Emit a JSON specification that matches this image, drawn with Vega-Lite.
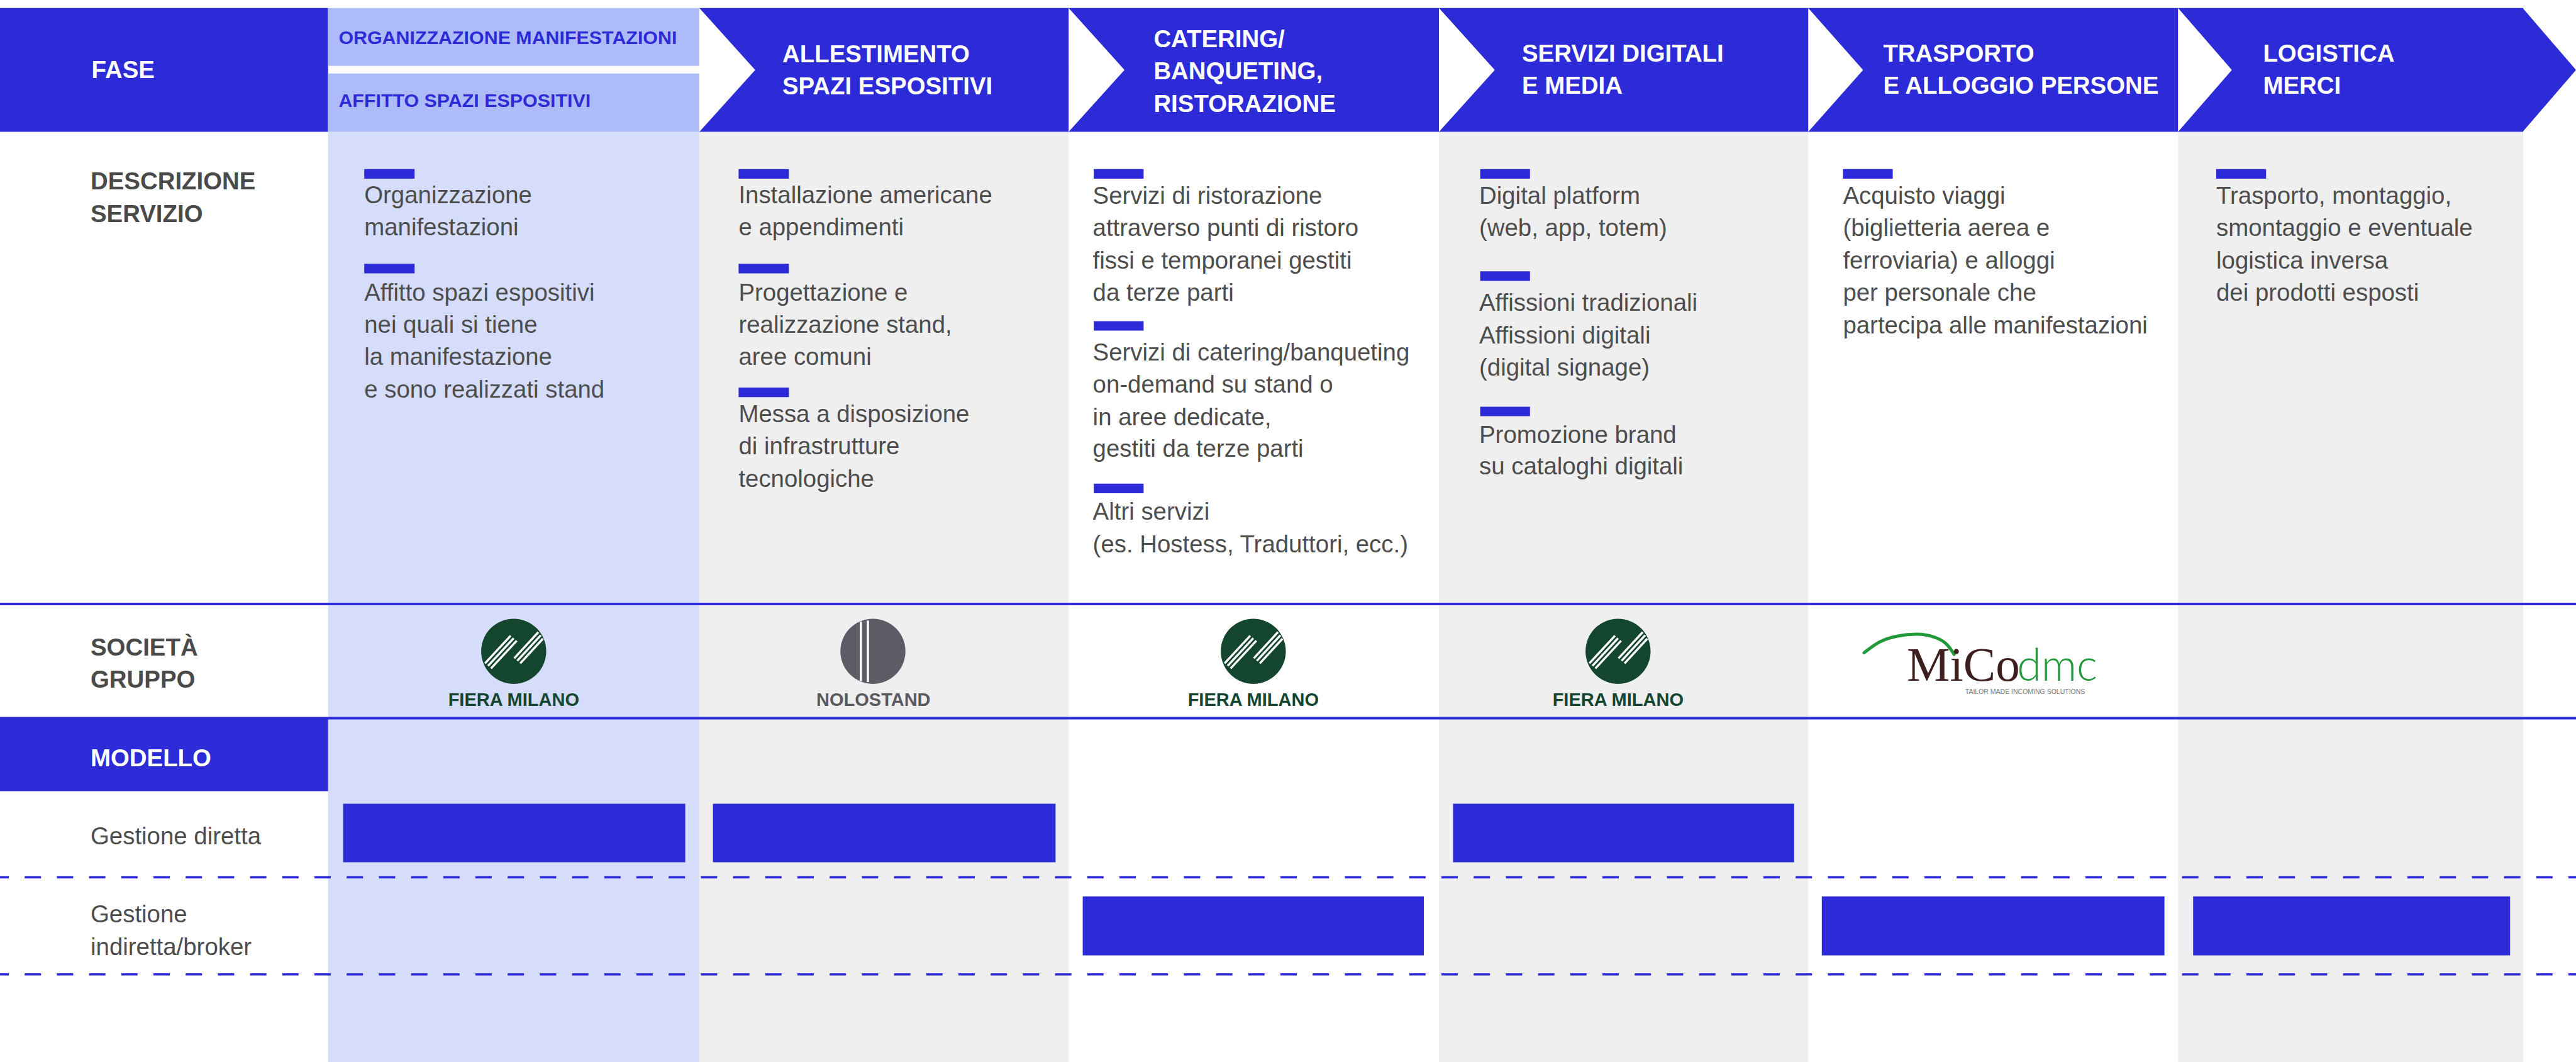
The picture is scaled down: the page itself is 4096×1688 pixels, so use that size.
{
  "$schema": "https://vega.github.io/schema/vega-lite/v6.json",
  "width": 4096,
  "height": 1688,
  "autosize": "none",
  "padding": 0,
  "background": "#ffffff",
  "config": {"view": {"stroke": null}},
  "datasets": {
    "columns": [
      {"phase": "Organizzazione manifestazioni", "x": 652, "x2": 1390, "y": 262, "y2": 2110, "kind": "colLight"},
      {"phase": "Allestimento", "x": 1390, "x2": 2124, "y": 262, "y2": 2110, "kind": "colGray"},
      {"phase": "Servizi digitali", "x": 2860, "x2": 3594, "y": 262, "y2": 2110, "kind": "colGray"},
      {"phase": "Logistica merci", "x": 4329, "x2": 5015, "y": 262, "y2": 2110, "kind": "colGray"}
    ],
    "header": [
      {"part": "fase", "x": 0, "x2": 652, "y": 16, "y2": 262, "kind": "blue"},
      {"part": "chevrons", "x": 1390, "x2": 5015, "y": 16, "y2": 262, "kind": "blue"},
      {"part": "org1", "x": 652, "x2": 1390, "y": 16, "y2": 131, "kind": "hdrLight"},
      {"part": "org2", "x": 652, "x2": 1390, "y": 146, "y2": 262, "kind": "hdrLight"},
      {"part": "modello", "x": 0, "x2": 652, "y": 1427, "y2": 1572, "kind": "blue"}
    ],
    "arrows": [
      {"id": "n1", "kind": "white", "y": 16, "x": 1390, "x2": 1390},
      {"id": "n1", "kind": "white", "y": 139, "x": 1390, "x2": 1501},
      {"id": "n1", "kind": "white", "y": 262, "x": 1390, "x2": 1390},
      {"id": "n2", "kind": "white", "y": 16, "x": 2124, "x2": 2124},
      {"id": "n2", "kind": "white", "y": 139, "x": 2124, "x2": 2235},
      {"id": "n2", "kind": "white", "y": 262, "x": 2124, "x2": 2124},
      {"id": "n3", "kind": "white", "y": 16, "x": 2860, "x2": 2860},
      {"id": "n3", "kind": "white", "y": 139, "x": 2860, "x2": 2971},
      {"id": "n3", "kind": "white", "y": 262, "x": 2860, "x2": 2860},
      {"id": "n4", "kind": "white", "y": 16, "x": 3594, "x2": 3594},
      {"id": "n4", "kind": "white", "y": 139, "x": 3594, "x2": 3703},
      {"id": "n4", "kind": "white", "y": 262, "x": 3594, "x2": 3594},
      {"id": "n5", "kind": "white", "y": 16, "x": 4329, "x2": 4329},
      {"id": "n5", "kind": "white", "y": 139, "x": 4329, "x2": 4436},
      {"id": "n5", "kind": "white", "y": 262, "x": 4329, "x2": 4329},
      {"id": "tip", "kind": "blue", "y": 16, "x": 5014, "x2": 5014},
      {"id": "tip", "kind": "blue", "y": 139, "x": 5014, "x2": 5120},
      {"id": "tip", "kind": "blue", "y": 262, "x": 5014, "x2": 5014}
    ],
    "markers": [
      {"phase": "Organizzazione", "x": 724, "x2": 824, "y": 336, "y2": 355, "kind": "blue"},
      {"phase": "Organizzazione", "x": 724, "x2": 824, "y": 524, "y2": 543, "kind": "blue"},
      {"phase": "Allestimento", "x": 1468, "x2": 1568, "y": 336, "y2": 355, "kind": "blue"},
      {"phase": "Allestimento", "x": 1468, "x2": 1568, "y": 524, "y2": 543, "kind": "blue"},
      {"phase": "Allestimento", "x": 1468, "x2": 1568, "y": 770, "y2": 789, "kind": "blue"},
      {"phase": "Catering", "x": 2174, "x2": 2273, "y": 336, "y2": 355, "kind": "blue"},
      {"phase": "Catering", "x": 2174, "x2": 2273, "y": 638, "y2": 657, "kind": "blue"},
      {"phase": "Catering", "x": 2174, "x2": 2273, "y": 961, "y2": 980, "kind": "blue"},
      {"phase": "Servizi digitali", "x": 2942, "x2": 3041, "y": 336, "y2": 355, "kind": "blue"},
      {"phase": "Servizi digitali", "x": 2942, "x2": 3041, "y": 539, "y2": 558, "kind": "blue"},
      {"phase": "Servizi digitali", "x": 2942, "x2": 3041, "y": 808, "y2": 827, "kind": "blue"},
      {"phase": "Trasporto", "x": 3663, "x2": 3762, "y": 336, "y2": 355, "kind": "blue"},
      {"phase": "Logistica", "x": 4405, "x2": 4504, "y": 336, "y2": 355, "kind": "blue"}
    ],
    "models": [
      {"phase": "Organizzazione", "model": "Gestione diretta", "x": 682, "x2": 1362, "y": 1597, "y2": 1713, "kind": "blue"},
      {"phase": "Allestimento", "model": "Gestione diretta", "x": 1417, "x2": 2098, "y": 1597, "y2": 1713, "kind": "blue"},
      {"phase": "Servizi digitali", "model": "Gestione diretta", "x": 2888, "x2": 3566, "y": 1597, "y2": 1713, "kind": "blue"},
      {"phase": "Catering", "model": "Gestione indiretta/broker", "x": 2152, "x2": 2830, "y": 1781, "y2": 1898, "kind": "blue"},
      {"phase": "Trasporto", "model": "Gestione indiretta/broker", "x": 3621, "x2": 4302, "y": 1781, "y2": 1898, "kind": "blue"},
      {"phase": "Logistica", "model": "Gestione indiretta/broker", "x": 4359, "x2": 4989, "y": 1781, "y2": 1898, "kind": "blue"}
    ],
    "solidLines": [
      {"x": 0, "x2": 5120, "y": 1200},
      {"x": 0, "x2": 5120, "y": 1427}
    ],
    "dashLines": [
      {"x": 0, "x2": 5120, "y": 1743},
      {"x": 0, "x2": 5120, "y": 1936}
    ],
    "logos": [
      {"company": "Fiera Milano", "x": 1021, "y": 1294, "kind": "fieraGreen"},
      {"company": "Nolostand", "x": 1735, "y": 1294, "kind": "noloGray"},
      {"company": "Fiera Milano", "x": 2491, "y": 1294, "kind": "fieraGreen"},
      {"company": "Fiera Milano", "x": 3216, "y": 1294, "kind": "fieraGreen"}
    ],
    "stripes": [
      {"x": 964, "y": 1318, "x2": 1015, "y2": 1263},
      {"x": 970, "y": 1323, "x2": 1021, "y2": 1268},
      {"x": 976, "y": 1328, "x2": 1027, "y2": 1273},
      {"x": 1022, "y": 1308, "x2": 1070, "y2": 1256},
      {"x": 1028, "y": 1313, "x2": 1075, "y2": 1262},
      {"x": 1034, "y": 1318, "x2": 1079, "y2": 1269},
      {"x": 2434, "y": 1318, "x2": 2485, "y2": 1263},
      {"x": 2440, "y": 1323, "x2": 2491, "y2": 1268},
      {"x": 2446, "y": 1328, "x2": 2497, "y2": 1273},
      {"x": 2492, "y": 1308, "x2": 2540, "y2": 1256},
      {"x": 2498, "y": 1313, "x2": 2545, "y2": 1262},
      {"x": 2504, "y": 1318, "x2": 2549, "y2": 1269},
      {"x": 3159, "y": 1318, "x2": 3210, "y2": 1263},
      {"x": 3165, "y": 1323, "x2": 3216, "y2": 1268},
      {"x": 3171, "y": 1328, "x2": 3222, "y2": 1273},
      {"x": 3217, "y": 1308, "x2": 3265, "y2": 1256},
      {"x": 3223, "y": 1313, "x2": 3270, "y2": 1262},
      {"x": 3229, "y": 1318, "x2": 3274, "y2": 1269},
      {"x": 1711, "y": 1235, "x2": 1711, "y2": 1353},
      {"x": 1725, "y": 1233, "x2": 1725, "y2": 1355}
    ],
    "micoArc": [
      {"x": 3705, "y": 1297},
      {"x": 3735, "y": 1276},
      {"x": 3770, "y": 1264},
      {"x": 3810, "y": 1260},
      {"x": 3845, "y": 1266},
      {"x": 3870, "y": 1281},
      {"x": 3884, "y": 1300}
    ],
    "headText": [
      {"x": 182, "y": 155, "t": "FASE"},
      {"x": 1555, "y": 124, "t": "ALLESTIMENTO"},
      {"x": 1555, "y": 188, "t": "SPAZI ESPOSITIVI"},
      {"x": 2293, "y": 94, "t": "CATERING/"},
      {"x": 2293, "y": 158, "t": "BANQUETING,"},
      {"x": 2293, "y": 222, "t": "RISTORAZIONE"},
      {"x": 3025, "y": 122, "t": "SERVIZI DIGITALI"},
      {"x": 3025, "y": 186, "t": "E MEDIA"},
      {"x": 3743, "y": 122, "t": "TRASPORTO"},
      {"x": 3743, "y": 186, "t": "E ALLOGGIO PERSONE"},
      {"x": 4498, "y": 122, "t": "LOGISTICA"},
      {"x": 4498, "y": 186, "t": "MERCI"},
      {"x": 180, "y": 1523, "t": "MODELLO"}
    ],
    "subHeadText": [
      {"x": 673, "y": 88, "t": "ORGANIZZAZIONE MANIFESTAZIONI"},
      {"x": 673, "y": 213, "t": "AFFITTO SPAZI ESPOSITIVI"}
    ],
    "rowLabels": [
      {"x": 180, "y": 376, "t": "DESCRIZIONE"},
      {"x": 180, "y": 441, "t": "SERVIZIO"},
      {"x": 180, "y": 1302, "t": "SOCIETÀ"},
      {"x": 180, "y": 1366, "t": "GRUPPO"}
    ],
    "modelLabels": [
      {"x": 180, "y": 1677, "t": "Gestione diretta"},
      {"x": 180, "y": 1833, "t": "Gestione"},
      {"x": 180, "y": 1897, "t": "indiretta/broker"}
    ],
    "desc": [
      {"x": 724, "y": 404, "t": "Organizzazione"},
      {"x": 724, "y": 468, "t": "manifestazioni"},
      {"x": 724, "y": 597, "t": "Affitto spazi espositivi"},
      {"x": 724, "y": 661, "t": "nei quali si tiene"},
      {"x": 724, "y": 725, "t": "la manifestazione"},
      {"x": 724, "y": 790, "t": "e sono realizzati stand"},
      {"x": 1468, "y": 404, "t": "Installazione americane"},
      {"x": 1468, "y": 468, "t": "e appendimenti"},
      {"x": 1468, "y": 597, "t": "Progettazione e"},
      {"x": 1468, "y": 661, "t": "realizzazione stand,"},
      {"x": 1468, "y": 725, "t": "aree comuni"},
      {"x": 1468, "y": 839, "t": "Messa a disposizione"},
      {"x": 1468, "y": 903, "t": "di infrastrutture"},
      {"x": 1468, "y": 967, "t": "tecnologiche"},
      {"x": 2172, "y": 405, "t": "Servizi di ristorazione"},
      {"x": 2172, "y": 469, "t": "attraverso punti di ristoro"},
      {"x": 2172, "y": 534, "t": "fissi e temporanei gestiti"},
      {"x": 2172, "y": 598, "t": "da terze parti"},
      {"x": 2172, "y": 716, "t": "Servizi di catering/banqueting"},
      {"x": 2172, "y": 780, "t": "on-demand su stand o"},
      {"x": 2172, "y": 845, "t": "in aree dedicate,"},
      {"x": 2172, "y": 908, "t": "gestiti da terze parti"},
      {"x": 2172, "y": 1033, "t": "Altri servizi"},
      {"x": 2172, "y": 1097, "t": "(es. Hostess, Traduttori, ecc.)"},
      {"x": 2940, "y": 405, "t": "Digital platform"},
      {"x": 2940, "y": 469, "t": "(web, app, totem)"},
      {"x": 2940, "y": 618, "t": "Affissioni tradizionali"},
      {"x": 2940, "y": 683, "t": "Affissioni digitali"},
      {"x": 2940, "y": 746, "t": "(digital signage)"},
      {"x": 2940, "y": 880, "t": "Promozione brand"},
      {"x": 2940, "y": 943, "t": "su cataloghi digitali"},
      {"x": 3663, "y": 405, "t": "Acquisto viaggi"},
      {"x": 3663, "y": 469, "t": "\u00a0(biglietteria aerea e"},
      {"x": 3663, "y": 534, "t": "ferroviaria) e alloggi"},
      {"x": 3663, "y": 598, "t": "per personale che"},
      {"x": 3663, "y": 662, "t": "partecipa alle manifestazioni"},
      {"x": 4405, "y": 405, "t": "Trasporto, montaggio,"},
      {"x": 4405, "y": 469, "t": "smontaggio e eventuale"},
      {"x": 4405, "y": 534, "t": "logistica inversa"},
      {"x": 4405, "y": 598, "t": "dei prodotti esposti"}
    ],
    "fieraText": [
      {"x": 1021, "y": 1402, "t": "FIERA MILANO"},
      {"x": 2491, "y": 1402, "t": "FIERA MILANO"},
      {"x": 3216, "y": 1402, "t": "FIERA MILANO"}
    ],
    "noloText": [
      {"x": 1736, "y": 1402, "t": "NOLOSTAND"}
    ],
    "micoText": [
      {"x": 3790, "y": 1353, "t": "MiCo"}
    ],
    "dmcText": [
      {"x": 4009, "y": 1353, "t": "dmc"}
    ],
    "micoSub": [
      {"x": 3906, "y": 1379, "t": "TAILOR MADE INCOMING SOLUTIONS"}
    ]
  },
  "encoding": {
    "x": {"field": "x", "type": "quantitative", "scale": {"domain": [0, 5120], "nice": false, "zero": false}, "axis": null},
    "y": {"field": "y", "type": "quantitative", "scale": {"domain": [0, 2110], "nice": false, "zero": false, "reverse": true}, "axis": null}
  },
  "layer": [
    {
      "data": {"name": "columns"},
      "mark": {"type": "rect"},
      "encoding": {
        "x2": {"field": "x2"}, "y2": {"field": "y2"},
        "color": {"field": "kind", "type": "nominal", "legend": null,
          "scale": {"domain": ["blue", "colLight", "colGray", "hdrLight", "white", "fieraGreen", "noloGray"],
                    "range": ["#2d2ad7", "#d5ddfb", "#efefef", "#adbcf9", "#ffffff", "#14452f", "#5c5c66"]}}
      }
    },
    {
      "data": {"name": "header"},
      "mark": {"type": "rect"},
      "encoding": {
        "x2": {"field": "x2"}, "y2": {"field": "y2"},
        "color": {"field": "kind", "type": "nominal", "legend": null,
          "scale": {"domain": ["blue", "colLight", "colGray", "hdrLight", "white", "fieraGreen", "noloGray"],
                    "range": ["#2d2ad7", "#d5ddfb", "#efefef", "#adbcf9", "#ffffff", "#14452f", "#5c5c66"]}}
      }
    },
    {
      "data": {"name": "arrows"},
      "mark": {"type": "area", "orient": "horizontal"},
      "encoding": {
        "x": {"field": "x", "type": "quantitative", "stack": null, "scale": {"domain": [0, 5120], "nice": false, "zero": false}, "axis": null},
        "x2": {"field": "x2"},
        "detail": {"field": "id"},
        "color": {"field": "kind", "type": "nominal", "legend": null,
          "scale": {"domain": ["blue", "colLight", "colGray", "hdrLight", "white", "fieraGreen", "noloGray"],
                    "range": ["#2d2ad7", "#d5ddfb", "#efefef", "#adbcf9", "#ffffff", "#14452f", "#5c5c66"]}}
      }
    },
    {
      "data": {"name": "markers"},
      "mark": {"type": "rect"},
      "encoding": {
        "x2": {"field": "x2"}, "y2": {"field": "y2"},
        "color": {"field": "kind", "type": "nominal", "legend": null,
          "scale": {"domain": ["blue", "colLight", "colGray", "hdrLight", "white", "fieraGreen", "noloGray"],
                    "range": ["#2d2ad7", "#d5ddfb", "#efefef", "#adbcf9", "#ffffff", "#14452f", "#5c5c66"]}}
      }
    },
    {
      "data": {"name": "models"},
      "mark": {"type": "rect"},
      "encoding": {
        "x2": {"field": "x2"}, "y2": {"field": "y2"},
        "color": {"field": "kind", "type": "nominal", "legend": null,
          "scale": {"domain": ["blue", "colLight", "colGray", "hdrLight", "white", "fieraGreen", "noloGray"],
                    "range": ["#2d2ad7", "#d5ddfb", "#efefef", "#adbcf9", "#ffffff", "#14452f", "#5c5c66"]}}
      }
    },
    {
      "data": {"name": "solidLines"},
      "mark": {"type": "rule", "color": "#2d2ad7", "strokeWidth": 4},
      "encoding": {"x2": {"field": "x2"}}
    },
    {
      "data": {"name": "dashLines"},
      "mark": {"type": "rule", "color": "#2d2ad7", "strokeWidth": 3.6, "strokeDash": [26, 25.2], "strokeDashOffset": 12},
      "encoding": {"x2": {"field": "x2"}}
    },
    {
      "data": {"name": "logos"},
      "mark": {"type": "point", "shape": "circle", "filled": true, "opacity": 1, "size": 10700},
      "encoding": {
        "color": {"field": "kind", "type": "nominal", "legend": null,
          "scale": {"domain": ["blue", "colLight", "colGray", "hdrLight", "white", "fieraGreen", "noloGray"],
                    "range": ["#2d2ad7", "#d5ddfb", "#efefef", "#adbcf9", "#ffffff", "#14452f", "#5c5c66"]}}
      }
    },
    {
      "data": {"name": "stripes"},
      "mark": {"type": "rule", "color": "#ffffff", "strokeWidth": 3.5},
      "encoding": {"x2": {"field": "x2"}, "y2": {"field": "y2"}}
    },
    {
      "data": {"name": "micoArc"},
      "mark": {"type": "line", "color": "#22993a", "strokeWidth": 5, "strokeCap": "round", "interpolate": "monotone"}
    },
    {
      "data": {"name": "headText"},
      "mark": {"type": "text", "align": "left", "baseline": "alphabetic", "font": "Liberation Sans", "fontWeight": "bold", "fontSize": 38.4, "color": "#ffffff"},
      "encoding": {"text": {"field": "t"}}
    },
    {
      "data": {"name": "subHeadText"},
      "mark": {"type": "text", "align": "left", "baseline": "alphabetic", "font": "Liberation Sans", "fontWeight": "bold", "fontSize": 30.4, "color": "#2d2ad7"},
      "encoding": {"text": {"field": "t"}}
    },
    {
      "data": {"name": "rowLabels"},
      "mark": {"type": "text", "align": "left", "baseline": "alphabetic", "font": "Liberation Sans", "fontWeight": "bold", "fontSize": 38.4, "color": "#4a4a4a"},
      "encoding": {"text": {"field": "t"}}
    },
    {
      "data": {"name": "modelLabels"},
      "mark": {"type": "text", "align": "left", "baseline": "alphabetic", "font": "Liberation Sans", "fontSize": 38.4, "color": "#4d4d4d"},
      "encoding": {"text": {"field": "t"}}
    },
    {
      "data": {"name": "desc"},
      "mark": {"type": "text", "align": "left", "baseline": "alphabetic", "font": "Liberation Sans", "fontSize": 38.4, "color": "#4d4d4d"},
      "encoding": {"text": {"field": "t"}}
    },
    {
      "data": {"name": "fieraText"},
      "mark": {"type": "text", "align": "center", "baseline": "alphabetic", "font": "Liberation Sans", "fontWeight": "bold", "fontSize": 29, "color": "#14452f"},
      "encoding": {"text": {"field": "t"}}
    },
    {
      "data": {"name": "noloText"},
      "mark": {"type": "text", "align": "center", "baseline": "alphabetic", "font": "Liberation Sans", "fontWeight": "bold", "fontSize": 29, "color": "#58585f"},
      "encoding": {"text": {"field": "t"}}
    },
    {
      "data": {"name": "micoText"},
      "mark": {"type": "text", "align": "left", "baseline": "alphabetic", "font": "Liberation Serif", "fontSize": 77, "color": "#3d1f1f"},
      "encoding": {"text": {"field": "t"}}
    },
    {
      "data": {"name": "dmcText"},
      "mark": {"type": "text", "align": "left", "baseline": "alphabetic", "font": "Lato", "fontWeight": 300, "fontSize": 70, "color": "#22993a"},
      "encoding": {"text": {"field": "t"}}
    },
    {
      "data": {"name": "micoSub"},
      "mark": {"type": "text", "align": "left", "baseline": "alphabetic", "font": "Liberation Sans", "fontSize": 10.5, "color": "#777777"},
      "encoding": {"text": {"field": "t"}}
    }
  ]
}
